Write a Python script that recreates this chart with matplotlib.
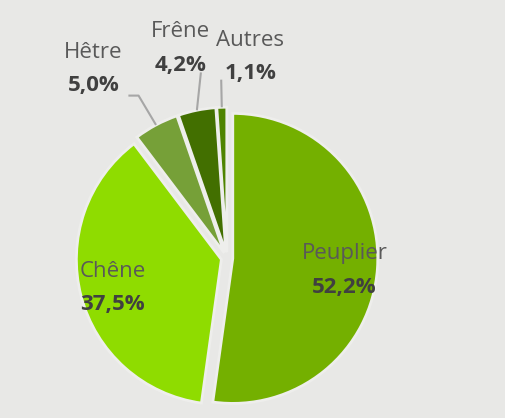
import numpy as np
import matplotlib.pyplot as plt

species = ["Peuplier", "Chêne", "Hêtre", "Frêne", "Autres"]
shares = [52.2, 37.5, 5.0, 4.2, 1.1]
share_labels = ["52,2%", "37,5%", "5,0%", "4,2%", "1,1%"]

colors = ["#74b000", "#8fdc00", "#76a038", "#426f00", "#4f8400"]
bg = "#e8e8e6"

# label anchor (data units, 1 = radius) and leader line start (None = no leader)
label_pos = [(0.81, 0.03), (-0.79, -0.09), (-0.92, 1.42), (-0.32, 1.56), (0.16, 1.50)]
leader_start = [None, None, [(-0.68, 1.12), (-0.61, 1.12)], [(-0.18, 1.28)], [(-0.04, 1.23)]]

fig = plt.figure(figsize=(5.05, 4.18), dpi=100, facecolor=bg)
ax = fig.add_axes([0, 0, 1, 1])
ax.set_facecolor(bg)

wedges, _ = ax.pie(shares, colors=colors, startangle=90, counterclock=False,
                   explode=[0.04] * 5, radius=1.0,
                   wedgeprops=dict(edgecolor="#eeeeec", linewidth=2))

for w, name, val, (lx, ly), ls in zip(wedges, species, share_labels, label_pos, leader_start):
    ax.text(lx, ly, name, ha="center", va="center", fontsize=16,
            color="#595959", family="Open Sans")
    ax.text(lx, ly - 0.23, val, ha="center", va="center", fontsize=16,
            color="#404040", family="Open Sans", fontweight="bold")
    if ls:
        mid = np.deg2rad((w.theta1 + w.theta2) / 2)
        cx, cy = w.center
        ex, ey = cx + w.r * np.cos(mid), cy + w.r * np.sin(mid)
        xs = [p[0] for p in ls] + [ex]
        ys = [p[1] for p in ls] + [ey]
        ax.plot(xs, ys, color="#a6a6a6", lw=1.5, solid_capstyle="butt")

# 145 px per unit, pie centre at (227, 258) px from top-left
ax.set_xlim(-227 / 145, (505 - 227) / 145)
ax.set_ylim(-160 / 145, (418 - 160) / 145)
ax.set_aspect("auto")
ax.axis("off")

fig.savefig("out.png", dpi=100, facecolor=bg)
